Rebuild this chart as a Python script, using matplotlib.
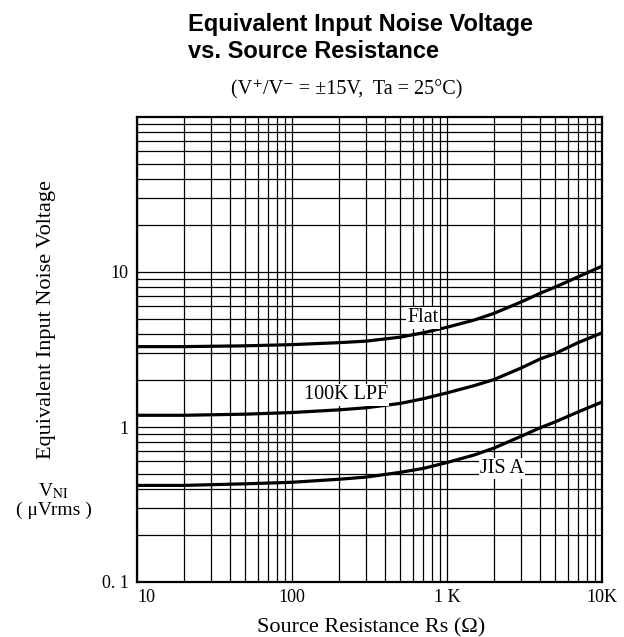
import matplotlib
matplotlib.use("Agg")
import matplotlib.pyplot as plt

plt.rcParams['font.family'] = ['Liberation Serif', 'DejaVu Serif']
plt.rcParams['mathtext.fontset'] = 'stix'

# source resistance (ohm)
rs = [10, 20, 50, 100, 200, 300, 500, 700, 1000, 1500, 2000, 3000, 4000, 5000, 7000, 10000]
# noise voltage (uVrms)
flat = [3.3, 3.3, 3.34, 3.4, 3.5, 3.58, 3.8, 4.05, 4.4, 4.9, 5.4, 6.4, 7.3, 8.0, 9.3, 10.9]
lpf_100k = [1.19, 1.19, 1.21, 1.24, 1.29, 1.33, 1.42, 1.52, 1.66, 1.85, 2.02, 2.4, 2.75, 2.98, 3.5, 4.05]
jis_a = [0.42, 0.42, 0.43, 0.44, 0.46, 0.475, 0.51, 0.54, 0.59, 0.66, 0.73, 0.87, 0.99, 1.08, 1.25, 1.45]

curve_labels = ["Flat", "100K LPF", "JIS A"]
label_pos = [(700, 5.05), (223, 1.61), (2260, 0.54)]

xticks = [10, 100, 1000, 10000]
xtick_labels = ["10", "100", "1 K", "10K"]
yticks = [0.1, 1, 10]
ytick_labels = ["0. 1", "1", "10"]

W, H = 624, 637
fig = plt.figure(figsize=(W / 100, H / 100), dpi=100)
ax = fig.add_axes([137 / W, 1 - 582 / H, 465 / W, 465 / H])

ax.set_xscale('log')
ax.set_yscale('log')
ax.set_xlim(10, 10000)
ax.set_ylim(0.1, 100)

ax.grid(True, which='both', color='black', linewidth=0.9)
ax.set_axisbelow(True)

for ys in (flat, lpf_100k, jis_a):
    ax.plot(rs, ys, color='black', linewidth=2.3, solid_capstyle='butt')

for txt, (lx, ly) in zip(curve_labels, label_pos):
    ax.text(lx, ly, txt, fontsize=14.5, ha='center', va='center',
            bbox=dict(facecolor='white', edgecolor='none', pad=0.8))

ax.set_xticks(xticks)
ax.set_xticklabels(xtick_labels)
ax.set_yticks(yticks)
ax.set_yticklabels(ytick_labels)
ax.minorticks_on()
ax.tick_params(which='both', length=0)
ax.tick_params(axis='x', labelsize=13, pad=5)
ax.tick_params(axis='y', labelsize=13, pad=6)
ax.xaxis.set_minor_formatter(plt.NullFormatter())
ax.yaxis.set_minor_formatter(plt.NullFormatter())
xl = ax.get_xticklabels()
xl[0].set_ha('left')

for sp in ax.spines.values():
    sp.set_linewidth(1.6)


def fx(px):
    return px / W


def fy(py):
    return 1 - py / H


fig.text(fx(188), fy(25), "Equivalent Input Noise Voltage", family='Liberation Sans',
         fontweight='bold', fontsize=17, ha='left', va='center')
fig.text(fx(188), fy(52), "vs. Source Resistance", family='Liberation Sans',
         fontweight='bold', fontsize=17, ha='left', va='center')
fig.text(fx(347), fy(90), "(V\u207a/V\u207b = \u00b115V,  Ta = 25\u00b0C)", fontsize=14.5,
         ha='center', va='center')

fig.text(fx(371), fy(628), "Source Resistance Rs (\u03a9)", fontsize=16, ha='center', va='center')
fig.text(fx(47), fy(320), "Equivalent Input Noise Voltage", fontsize=16, rotation=90,
         ha='center', va='center')
fig.text(fx(53), fy(491), r"V$_{\rm NI}$", fontsize=14, ha='center', va='center')
fig.text(fx(54), fy(510), "( \u03bcVrms )", fontsize=14, ha='center', va='center')

fig.savefig("out.png", dpi=100)
